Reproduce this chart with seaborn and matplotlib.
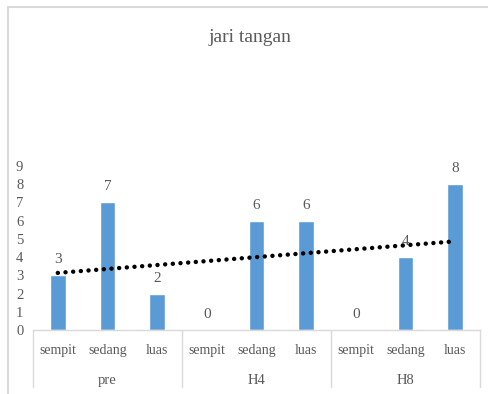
import numpy as np
import pandas as pd
import matplotlib
matplotlib.use("Agg")
import matplotlib.pyplot as plt
from matplotlib.lines import Line2D
import matplotlib.transforms as mtransforms
import seaborn as sns

# Data
groups = ["pre", "H4", "H8"]
categories = ["sempit", "sedang", "luas"]
pre_values = [3, 7, 2]
h4_values = [0, 6, 6]
h8_values = [0, 4, 8]
y_ticks = list(range(0, 10))

title = "jari tangan"
bar_color = "#5b9bd5"
text_color = "#595959"
line_color = "#d9d9d9"

sns.set_theme(style="white")
plt.rcParams["font.family"] = ["Liberation Serif", "DejaVu Serif"]

rows = []
for g, vals in zip(groups, [pre_values, h4_values, h8_values]):
    for c, v in zip(categories, vals):
        rows.append({"group": g, "category": c, "key": f"{g}|{c}", "value": v})
df = pd.DataFrame(rows)

fig = plt.figure(figsize=(4.88, 3.94), dpi=100)
ax = fig.add_axes([33 / 488, (394 - 330) / 394, 447 / 488, 164 / 394])

sns.barplot(data=df, x="key", y="value", order=list(df["key"]), color=bar_color,
            width=0.32, saturation=1, errorbar=None, ax=ax)

ax.set_ylim(0, 9)
ax.set_xlim(-0.5, len(df) - 0.5)
ax.set_yticks(y_ticks)
ax.set_yticklabels([str(t) for t in y_ticks], fontsize=10.5, color=text_color)
ax.tick_params(axis="y", length=0, pad=7)
ax.tick_params(axis="x", length=0, pad=0)
ax.set_xticks([])
ax.set_xlabel("")
ax.set_ylabel("")
for side in ["top", "right", "left"]:
    ax.spines[side].set_visible(False)
ax.spines["bottom"].set_color(line_color)
ax.spines["bottom"].set_linewidth(1)

# Value labels
positions = np.arange(len(df))
for x, v in zip(positions, df["value"]):
    ax.annotate(str(v), (x, v), xytext=(0, 6.5), textcoords="offset points",
                ha="center", va="bottom", fontsize=11, color=text_color)

# Linear trendline
coef = np.polyfit(positions, df["value"], 1)
trend = np.polyval(coef, positions)
ax.plot(positions, trend, color="black", linewidth=3.2,
        linestyle=(0, (0.01, 1.72)), dash_capstyle="round", zorder=5)

# Multi-level category axis
trans = mtransforms.blended_transform_factory(ax.transData, ax.transAxes)
sep_bottom = ((394 - 387) / 394 - (394 - 330) / 394) / (164 / 394)
for xs in [-0.5, 2.5, 5.5, 8.5]:
    ax.add_line(Line2D([xs, xs], [0, sep_bottom], transform=trans,
                       color=line_color, linewidth=1, clip_on=False))
cat_y = ((394 - 350.5) / 394 - (394 - 330) / 394) / (164 / 394)
grp_y = ((394 - 380.5) / 394 - (394 - 330) / 394) / (164 / 394)
for x, c in zip(positions, df["category"]):
    ax.text(x, cat_y, c, transform=trans, ha="center", va="center",
            fontsize=10, color=text_color)
for i, g in enumerate(groups):
    ax.text(i * 3 + 1, grp_y, g, transform=trans, ha="center", va="center",
            fontsize=10.5, color=text_color)

# Title
fig.text(250 / 488, 1 - 37 / 394, title, ha="center", va="center",
         fontsize=14, color=text_color)

# Chart frame
fig.add_artist(Line2D([8 / 488, 1], [1 - 6.5 / 394, 1 - 6.5 / 394],
                      transform=fig.transFigure, color=line_color, linewidth=1.5))
fig.add_artist(Line2D([8 / 488, 8 / 488], [0, 1 - 6.5 / 394],
                      transform=fig.transFigure, color=line_color, linewidth=1.5))

fig.savefig("out.png", dpi=100, facecolor="white")
